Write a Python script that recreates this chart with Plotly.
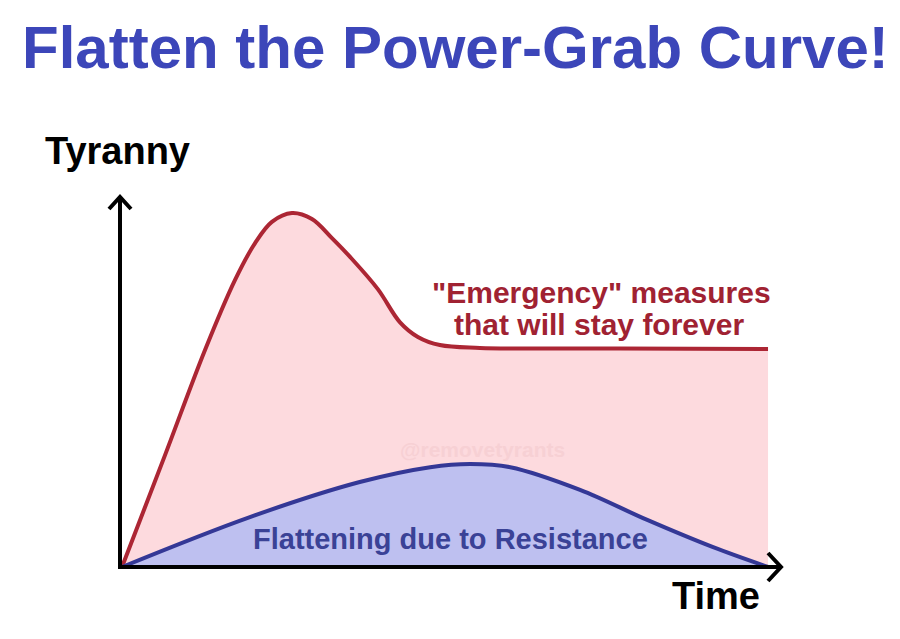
import plotly.graph_objects as go

# ---- data (time 0..100, tyranny 0..100) ----
power_grab_time = [0, 6.66, 12.85, 17.5, 20.6, 23.2, 26.3, 29.4, 32.5, 35.3, 39.6,
                   43.0, 45.8, 49.2, 55.4, 77.1, 100]
power_grab_tyranny = [0, 31.6, 61.3, 81.1, 91.5, 97.5, 100, 98.3, 92.9, 87.6, 78.5,
                      69.2, 65.0, 62.7, 61.9, 61.7, 61.6]

resist_time = [0, 19.8, 36.8, 47.7, 53.9, 60.1, 70.9, 81.3, 91.5, 100]
resist_tyranny = [0, 14.1, 24.0, 28.2, 29.1, 28.2, 21.8, 13.3, 5.6, 0]

title_text = "Flatten the Power-Grab Curve!"
y_label = "Tyranny"
x_label = "Time"
red_label_1 = '"Emergency" measures'
red_label_2 = "that will stay forever"
blue_label = "Flattening due to Resistance"
watermark = "@removetyrants"

# ---- layout geometry (pixels) ----
W, H = 900, 639
L, R, T, B = 112, 790, 190, 577
PW, PH = R - L, B - T


def xp(px):
    return (px - L) / PW


def yp(py):
    return (B - py) / PH


FONT = "Liberation Sans, Arial, sans-serif"
RED_LINE = "rgb(172,38,52)"
RED_FILL = "rgb(253,218,222)"
BLUE_LINE = "rgb(52,56,150)"
BLUE_FILL = "rgb(190,192,240)"

fig = go.Figure()
fig.add_trace(go.Scatter(
    x=power_grab_time, y=power_grab_tyranny, mode="lines",
    line=dict(color=RED_LINE, width=4, shape="spline", smoothing=1.0),
    fill="tozeroy", fillcolor=RED_FILL, hoverinfo="skip", showlegend=False))
fig.add_trace(go.Scatter(
    x=resist_time, y=resist_tyranny, mode="lines",
    line=dict(color=BLUE_LINE, width=4, shape="spline", smoothing=1.0),
    fill="tozeroy", fillcolor=BLUE_FILL, hoverinfo="skip", showlegend=False))

shapes = []
AX = dict(color="black", width=4)
# y axis + arrow
shapes.append(dict(type="line", xref="paper", yref="paper",
                   x0=xp(120), y0=yp(569), x1=xp(120), y1=yp(197), line=AX))
shapes.append(dict(type="path", xref="paper", yref="paper",
                   path=f"M {xp(109)},{yp(209)} L {xp(120)},{yp(197)} L {xp(131)},{yp(209)}",
                   line=AX))
# x axis + arrow
shapes.append(dict(type="line", xref="paper", yref="paper",
                   x0=xp(118), y0=yp(567), x1=xp(781), y1=yp(567), line=AX))
shapes.append(dict(type="path", xref="paper", yref="paper",
                   path=f"M {xp(768)},{yp(553)} L {xp(781)},{yp(567)} L {xp(768)},{yp(581)}",
                   line=AX))


def ann(text, x, y, size, color, **kw):
    return dict(text=text, x=xp(x), y=yp(y), xref="paper", yref="paper",
                xanchor="center", yanchor="middle", showarrow=False,
                font=dict(family=FONT, size=size, color=color), **kw)


annotations = [
    ann(f"<b>{title_text}</b>", 455, 48, 60, "rgb(60,70,185)"),
    ann(f"<b>{y_label}</b>", 117, 151, 38, "black"),
    ann(f"<b>{x_label}</b>", 716, 596, 38, "black"),
    ann(f"<b>{red_label_1}</b>", 601, 292, 30, "rgb(160,34,50)"),
    ann(f"<b>{red_label_2}</b>", 599, 324, 30, "rgb(160,34,50)"),
    ann(f"<b>{blue_label}</b>", 450, 539, 29, "rgb(58,66,150)"),
    ann(f"<b>{watermark}</b>", 482, 449, 21, "rgb(247,208,212)"),
]

fig.update_layout(
    width=W, height=H, autosize=False,
    margin=dict(l=L, r=W - R, t=T, b=H - B, pad=0),
    paper_bgcolor="white", plot_bgcolor="white",
    xaxis=dict(range=[-1.548, 103.4], visible=False, fixedrange=True),
    yaxis=dict(range=[-2.825, 106.5], visible=False, fixedrange=True),
    shapes=shapes, annotations=annotations,
)

fig.write_html("out.html")
